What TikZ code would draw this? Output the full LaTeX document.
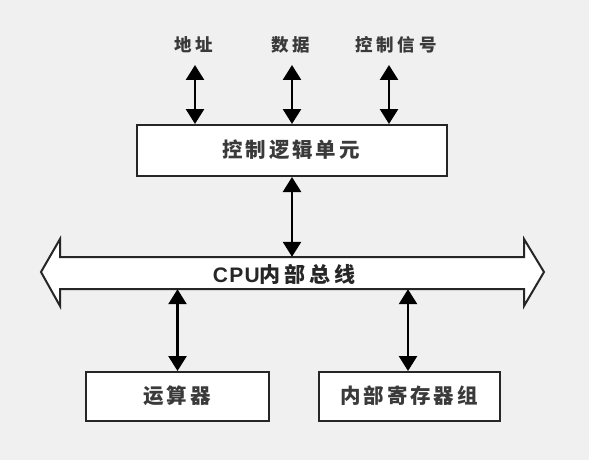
\documentclass[tikz,border=0pt]{standalone}
\usepackage{fontspec}
\usetikzlibrary{arrows.meta}
\newfontfamily\cjklab[LetterSpace=22]{Noto Sans CJK SC}
\newfontfamily\cjkbox[LetterSpace=14]{Noto Sans CJK SC}
\newfontfamily\latbus[LetterSpace=6]{Liberation Sans}
\definecolor{bgc}{HTML}{F0F0F0}
\definecolor{txt}{HTML}{3A3A3A}
\begin{document}
\begin{tikzpicture}[x=1pt,y=-1pt,
  lab/.style={font=\cjklab\bfseries\fontsize{17.5}{20}\selectfont, text=txt, inner sep=0pt},
  boxtxt/.style={font=\cjkbox\bfseries\fontsize{20.5}{24}\selectfont, text=txt},
  blk/.style={draw=black!85, line width=2pt, fill=white, inner sep=0pt},
  bi/.style={line width=2.6pt, {Triangle[width=18pt,length=15pt]}-{Triangle[width=18pt,length=15pt]}},
]
\fill[bgc] (0,0) rectangle (589,460);
\useasboundingbox (0,0) rectangle (589,460);

% labels
\node[lab] (l1) at (194,45) {地址};
\node[lab] (l2) at (291,45) {数据};
\node[lab] (l3) at (396,45) {控制信号};

% control box
\node[blk, minimum width=310pt, minimum height=51pt] (ctl) at (292,150.5) {};
\node[boxtxt] (ctltxt) at (291,150) {控制逻辑单元};

% bus
\draw[line width=2pt, draw=black!85, fill=white, line join=miter]
  (41,272) -- (60,239) -- (60,257) -- (524,257) -- (524,239) -- (544,272)
  -- (524,306) -- (524,289) -- (60,289) -- (60,306) -- cycle;
\node[minimum width=464pt, minimum height=32pt, inner sep=0pt] (bus) at (292,273) {};
\node[font=\fontsize{21}{24}\selectfont, text=black!85, inner sep=0pt] (bustxt) at (284,274)
  {{\latbus\bfseries CPU}{\cjkbox\bfseries\addfontfeature{LetterSpace=18}内部总线}};

% bottom boxes
\node[blk, minimum width=183pt, minimum height=49pt] (alu) at (177.5,396.5) {};
\node[boxtxt] (alutxt) at (177,396) {运算器};
\node[blk, minimum width=181pt, minimum height=49pt] (reg) at (409.5,396.5) {};
\node[boxtxt] (regtxt) at (409,396) {内部寄存器组};

% connector anchors
\coordinate (a1) at (195,65);
\coordinate (a2) at (292,65);
\coordinate (a3) at (389,65);

\draw[bi] (a1) -- (a1 |- ctl.north);
\draw[bi] (a2) -- (a2 |- ctl.north);
\draw[bi] (a3) -- (a3 |- ctl.north);
\draw[bi] (ctl.south -| a2) -- (bus.north -| a2);
\draw[bi] (bus.south -| alu.north) -- (alu.north);
\draw[bi] (bus.south -| 408,0) -- (reg.north -| 408,0);
\end{tikzpicture}
\end{document}
